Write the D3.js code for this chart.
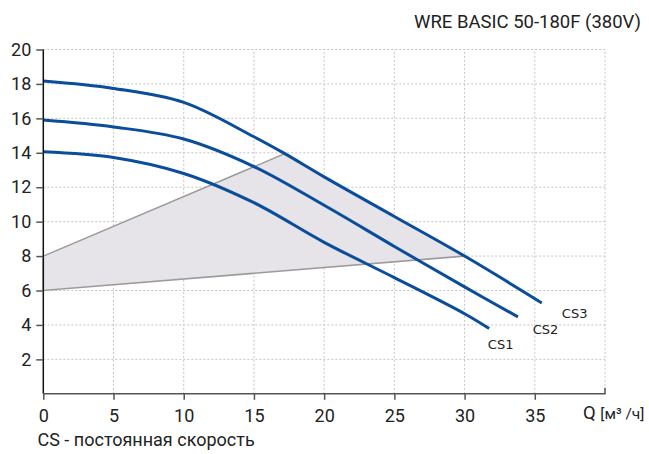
<!DOCTYPE html>
<html>
<head>
<meta charset="utf-8">
<script src="https://cdn.jsdelivr.net/npm/d3@7"></script>
<style>
  html, body { margin: 0; padding: 0; background: #fff; }
  svg { display: block; font-family: Roboto, "Noto Sans", sans-serif; }
</style>
</head>
<body>
<svg id="chart" width="649" height="454"></svg>
<script>
// ---- data ----
const title = "WRE BASIC 50-180F (380V)";
const note = "CS - постоянная скорость";
const xTicks = [0, 5, 10, 15, 20, 25, 30, 35];
const yTicks = [2, 4, 6, 8, 10, 12, 14, 16, 18, 20];
const seriesNames = ["CS1", "CS2", "CS3"];
const cs1Q = [0, 5, 10, 15, 20, 25, 30, 31.75];
const cs1H = [14.06, 13.73, 12.8, 11.1, 8.8, 6.75, 4.65, 3.79];
const cs2Q = [0, 5, 10, 15, 20, 25, 30, 33.8];
const cs2H = [15.9, 15.5, 14.8, 13.2, 10.95, 8.56, 6.21, 4.47];
const cs3Q = [0, 5, 10, 15, 17.2, 20, 25, 30, 35.5];
const cs3H = [18.17, 17.74, 16.93, 14.93, 13.95, 12.6, 10.3, 8.0, 5.28];
// operating area polygon (Q, H)
const areaQ = [0, 17.2, 20, 25, 30, 0];
const areaH = [8, 13.95, 12.6, 10.3, 8.0, 6];

const svg = d3.select("#chart");
const x = d3.scaleLinear().domain([0, 40]).range([43.3, 605]);
const y = d3.scaleLinear().domain([0, 20]).range([393.8, 49.5]);

// grid
const grid = svg.append("g");
grid.selectAll("line.v").data([5, 10, 15, 20, 25, 30, 35, 40]).join("line")
  .attr("x1", d => x(d)).attr("x2", d => x(d))
  .attr("y1", y(0)).attr("y2", y(20))
  .attr("stroke", "#c4c4c4").attr("stroke-width", 1).attr("stroke-dasharray", "2,2");
grid.selectAll("line.h").data(yTicks).join("line")
  .attr("x1", x(0)).attr("x2", x(40))
  .attr("y1", d => y(d)).attr("y2", d => y(d))
  .attr("stroke", "#c4c4c4").attr("stroke-width", 1).attr("stroke-dasharray", "2,2");

// curves
const line = d3.line().x(d => x(d[0])).y(d => y(d[1])).curve(d3.curveCatmullRom.alpha(0.5));
const curves = [
  cs1Q.map((q, i) => [q, cs1H[i]]),
  cs2Q.map((q, i) => [q, cs2H[i]]),
  cs3Q.map((q, i) => [q, cs3H[i]])
];

// operating area: lines to the CS3 curve, then along it
const areaPts = areaQ.map((q, i) => [q, areaH[i]]);
const areaPath = "M" + x(areaPts[0][0]) + "," + y(areaPts[0][1]) +
  "L" + x(areaPts[1][0]) + "," + y(areaPts[1][1]) +
  d3.line().x(d => x(d[0])).y(d => y(d[1])).curve(d3.curveCatmullRom.alpha(0.5))(areaPts.slice(1, 5)).replace(/^M[^CLZ]*/, "") +
  "L" + x(areaPts[5][0]) + "," + y(areaPts[5][1]) + "Z";
svg.append("path")
  .attr("d", areaPath)
  .attr("fill", "#e6e3e9")
  .attr("stroke", "#9b9b9b").attr("stroke-width", 1.5);

svg.append("g").selectAll("path").data(curves).join("path")
  .attr("d", line)
  .attr("fill", "none")
  .attr("stroke", "#0a4d9b")
  .attr("stroke-width", 3)
  .attr("stroke-linecap", "butt");

// curve labels
const labelPos = [[31.73, 2.6], [34.92, 3.47], [37.0, 4.4]];
svg.append("g").selectAll("text").data(seriesNames).join("text")
  .attr("x", (d, i) => x(labelPos[i][0]) - 1)
  .attr("y", (d, i) => y(labelPos[i][1]))
  .attr("font-family", "'DejaVu Sans', sans-serif")
  .attr("font-size", 13)
  .attr("fill", "#222")
  .text(d => d);

// axes
const yAxis = d3.axisLeft(y).tickValues(yTicks).tickSize(7).tickPadding(5).tickSizeOuter(0);
const gy = svg.append("g").attr("transform", `translate(${x(0)},0)`).call(yAxis);
gy.select(".domain").attr("stroke", "#111").attr("stroke-width", 1.5)
  .attr("d", `M0,${y(20)}V${y(0)}`);
gy.selectAll(".tick line").attr("stroke", "#555").attr("stroke-width", 1.5);
gy.selectAll(".tick text").attr("font-size", 18).attr("fill", "#222")
  .attr("font-family", "Roboto, sans-serif");

const xAxis = d3.axisBottom(x).tickValues(xTicks).tickSize(6).tickPadding(9).tickSizeOuter(0);
const gx = svg.append("g").attr("transform", `translate(0,${y(0)})`).call(xAxis);
gx.select(".domain").attr("stroke", "#555").attr("stroke-width", 1.5)
  .attr("d", `M${x(0)},0H${x(40)}V-6`);
gx.selectAll(".tick line").attr("stroke", "#555").attr("stroke-width", 1.5);
gx.selectAll(".tick text").attr("font-size", 18).attr("fill", "#222")
  .attr("font-family", "Roboto, sans-serif");

// axis title
const qt = svg.append("text").attr("x", 583).attr("y", 419).attr("fill", "#222");
qt.append("tspan").attr("font-size", 18.5).text("Q ");
qt.append("tspan").attr("font-size", 15.5).text("[м³ /ч]");

// title
svg.append("text").attr("x", 641).attr("y", 28).attr("text-anchor", "end")
  .attr("font-size", 18.5).attr("fill", "#222").text(title);

// note
svg.append("text").attr("x", 37.5).attr("y", 446)
  .attr("font-size", 18).attr("fill", "#222").text(note);
</script>
</body>
</html>
